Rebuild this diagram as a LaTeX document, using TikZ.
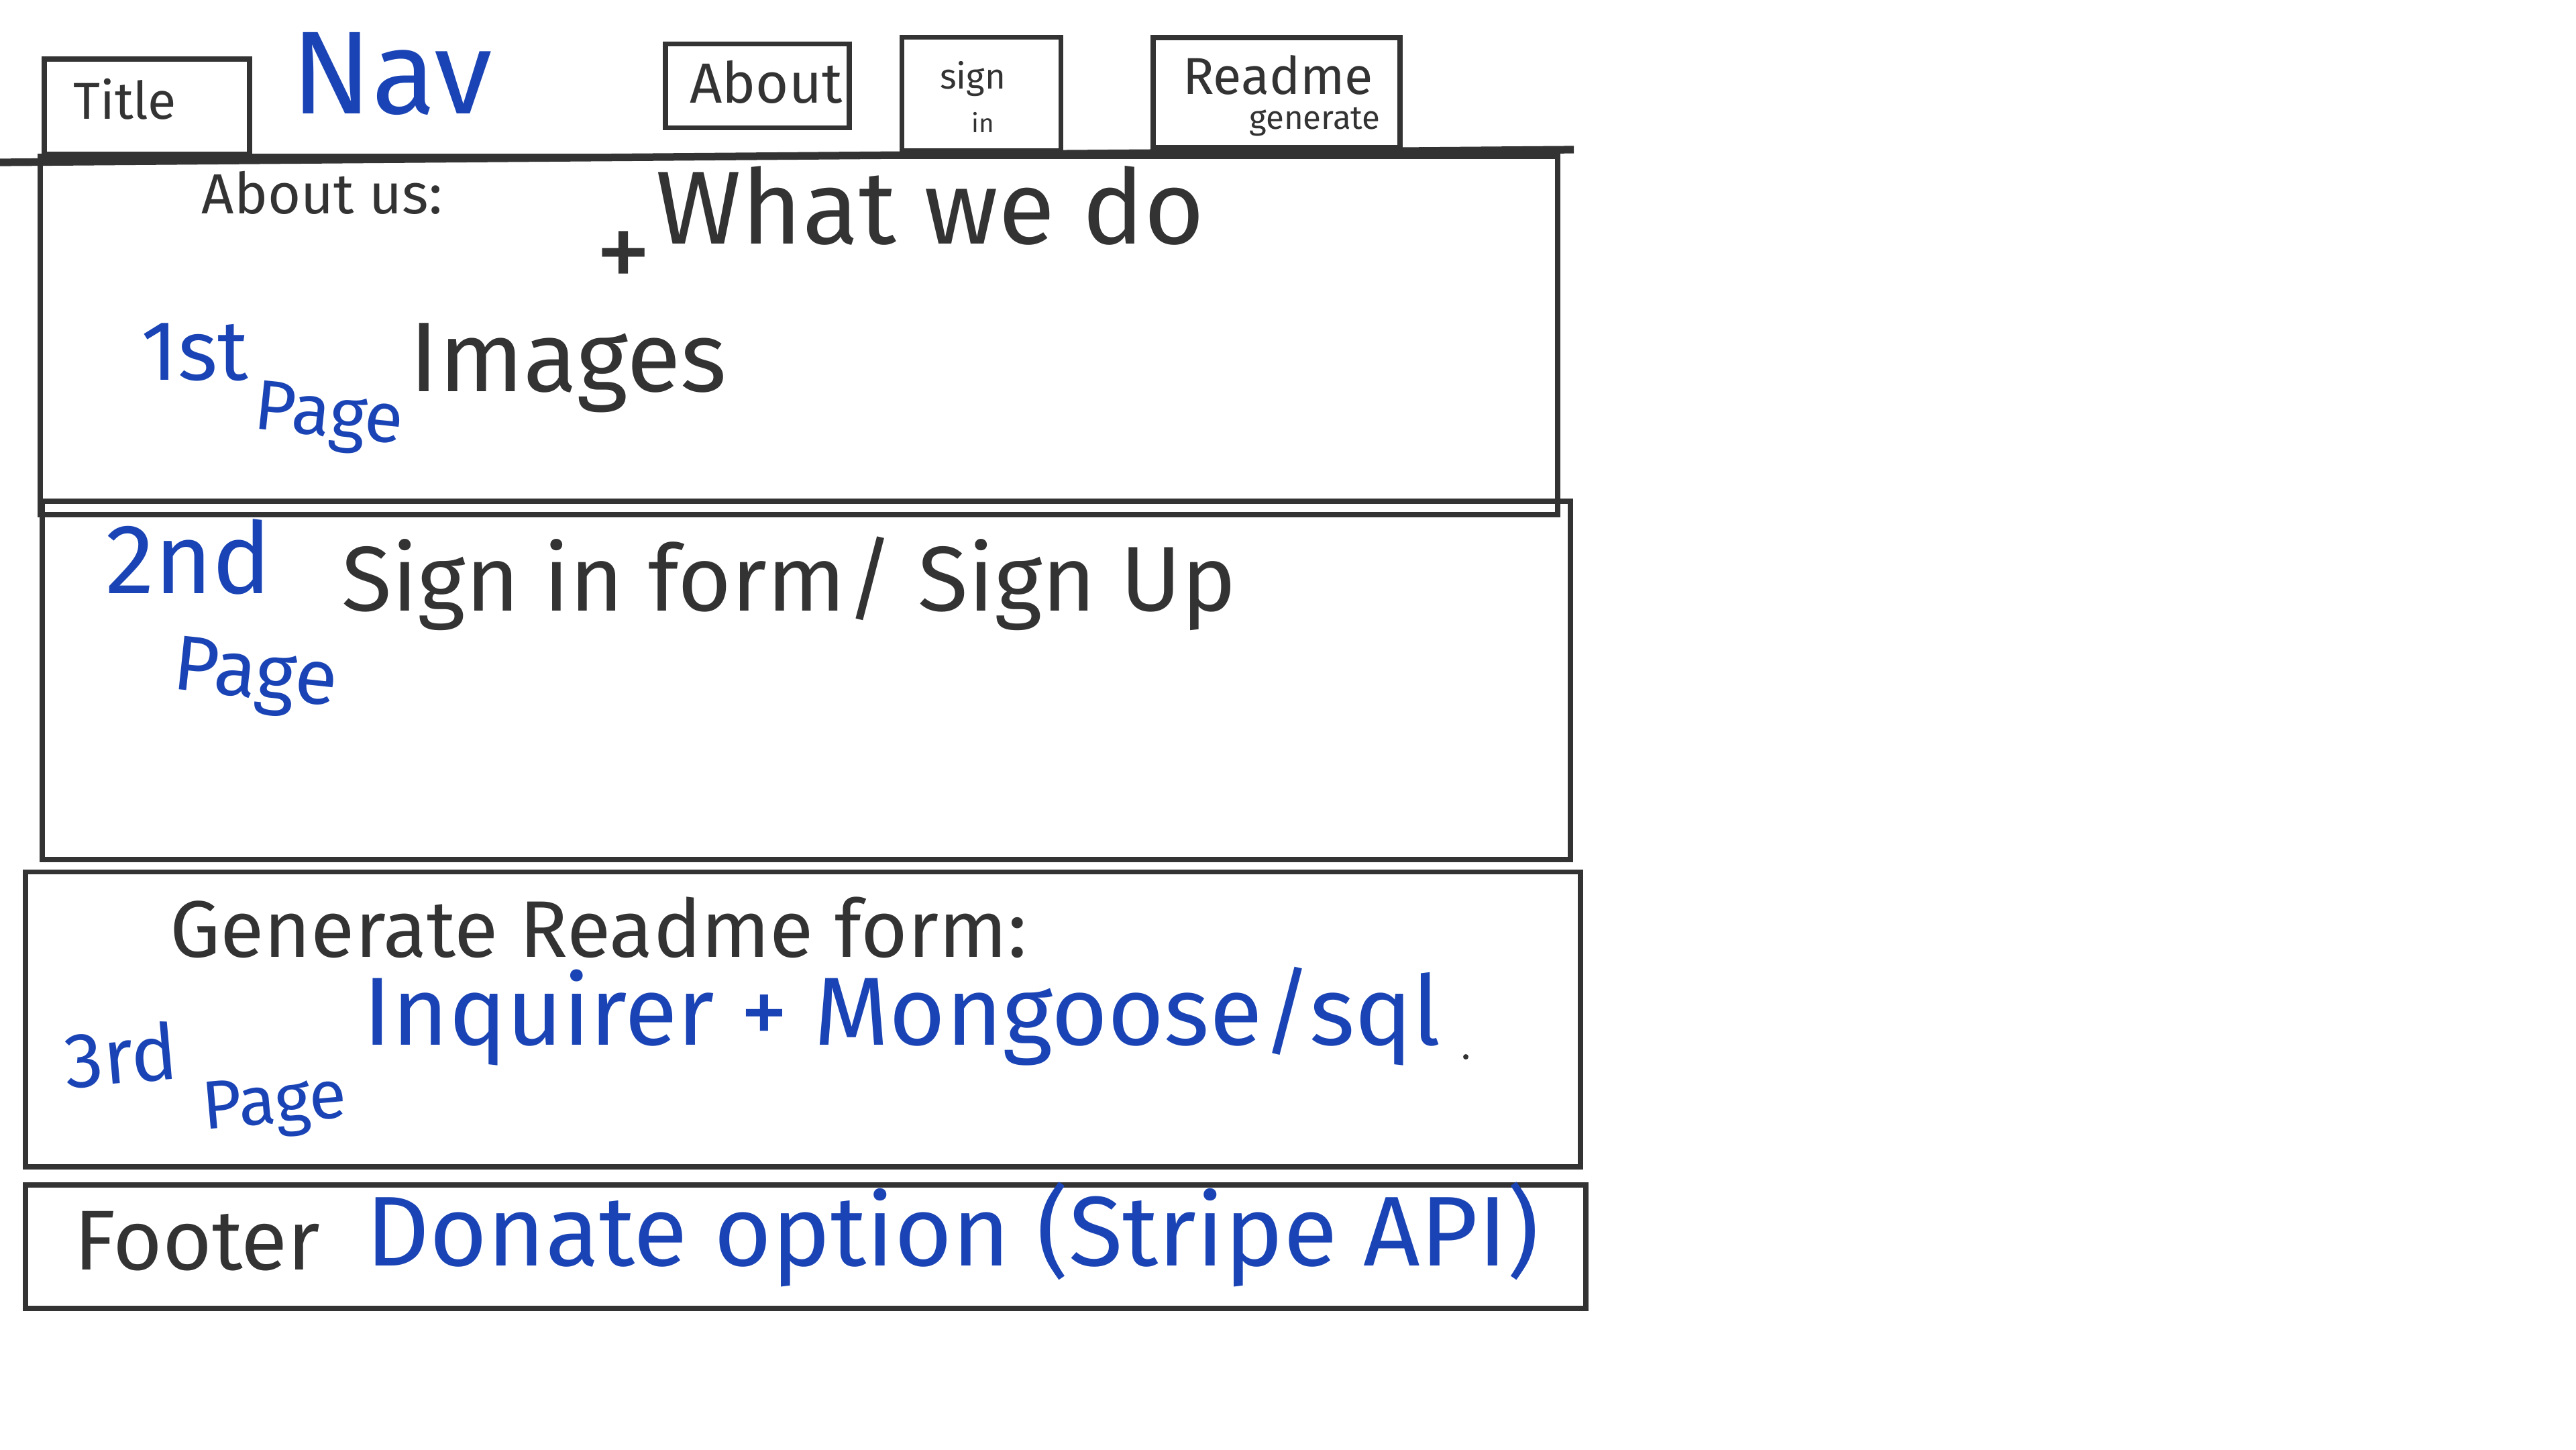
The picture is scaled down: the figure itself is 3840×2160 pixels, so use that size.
\documentclass[tikz,border=0pt]{standalone}
\usepackage{fontspec}
\setmainfont{Fira Sans}
\definecolor{ink}{HTML}{333333}
\definecolor{pen}{HTML}{1A44B5}
\tikzset{
  wbox/.style={draw=ink, line width=2.2pt, fill=none, inner sep=0pt},
  hand/.style={font=\fontsize{#1}{#1}\selectfont, text=ink, inner sep=0pt},
  bluehand/.style={font=\fontsize{#1}{#1}\selectfont, text=pen, inner sep=0pt},
}
\begin{document}
\begin{tikzpicture}[x=0.01cm,y=-0.01cm]
\path[use as bounding box, fill=white] (0,0) rectangle (3840,2160);
% nav boxes
\node[wbox, minimum width=3.06cm, minimum height=1.42cm] (title) at (219,159) {};
\node[wbox, minimum width=2.74cm, minimum height=1.25cm] (about) at (1129,128) {};
\node[wbox, minimum width=2.37cm, minimum height=1.69cm] (signin) at (1463,140) {};
\node[wbox, minimum width=3.68cm, minimum height=1.64cm] (readme) at (1903,138) {};
\coordinate (navL) at (0,242);
\coordinate (navR) at (2346,223);
\draw[ink, line width=3.2pt] (navL) -- (navR);
% page boxes
\node[wbox, minimum width=22.61cm, minimum height=5.34cm] (page1) at (1191,500) {};
\node[wbox, minimum width=22.77cm, minimum height=5.34cm] (page2) at (1202,1014) {};
\node[wbox, minimum width=23.17cm, minimum height=4.39cm] (page3) at (1197,1519) {};
\node[wbox, minimum width=23.24cm, minimum height=1.84cm] (footer) at (1201,1858) {};
% nav texts
\node[hand=22] (ttitle) at (186,148) {Title};
\node[bluehand=50] (tnav) at (584,110) {Nav};
\node[hand=24] (tabout) at (1142,122) {About};
\node[hand=15] (tsign) at (1450,118) {sign};
\node[hand=11] (tin) at (1465,182) {in};
\node[hand=22] (treadme) at (1905,112) {Readme};
\node[hand=14] (tgen) at (1960,182) {generate};
% page 1
\node[hand=24] (taboutus) at (480,287) {About us:};
\node[hand=44] (twhat) at (1387,306) {What we do};
\node[hand=48, text depth=0pt, text height=0.6em] (tplus) at (930,422) {+};
\node[bluehand=36] (t1st) at (290,525) {1st};
\node[bluehand=30, rotate=-6] (t1page) at (490,625) {Page};
\node[hand=42] (timages) at (847,548) {Images};
% page 2
\node[bluehand=42] (t2nd) at (281,830) {2nd};
\node[bluehand=33, rotate=-6] (t2page) at (380,1012) {Page};
\node[hand=39] (tsignform) at (1176,870) {Sign in form/ Sign Up};
% page 3
\node[hand=34] (tgenform) at (892,1382) {Generate Readme form:};
\node[bluehand=33, rotate=5] (t3rd) at (180,1572) {3rd};
\node[bluehand=29, rotate=5] (t3page) at (410,1650) {Page};
\node[bluehand=41] (tinq) at (1345,1515) {Inquirer + Mongoose/sql};
\fill[ink] (2185,1575) circle (4);
% footer
\node[hand=36] (tfooter) at (294,1850) {Footer};
\node[bluehand=42] (tdonate) at (1420,1840) {Donate option (Stripe API)};
\end{tikzpicture}
\end{document}
